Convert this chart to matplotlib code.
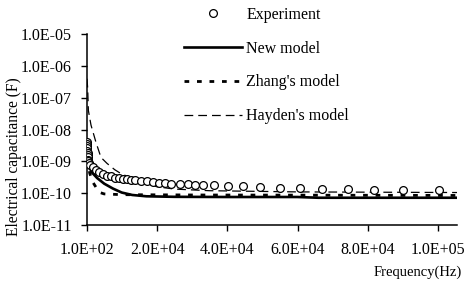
import matplotlib
matplotlib.use("Agg")
import matplotlib.pyplot as plt

plt.rcParams['font.family'] = ['Liberation Serif', 'DejaVu Serif']

# Experiment data
exp_freq = [100, 130, 160, 190, 220, 250, 300, 350, 400, 500, 700,
            1000, 1800, 2700, 3500, 4700, 5800, 6900, 8100, 9200, 10300,
            11500, 12600, 13800, 15500, 17200, 18900, 20600, 22300, 24000,
            26600, 28800, 30800, 33100, 36200, 40200, 44500, 49300, 55000,
            60700, 67000, 74400, 82000, 90000, 100500]
exp_cap = [4.2e-9, 3.6e-9, 3.1e-9, 2.6e-9, 2.2e-9, 1.9e-9, 1.6e-9, 1.35e-9, 1.15e-9, 1.0e-9, 8.8e-10,
           7.5e-10, 6.5e-10, 5.4e-10, 4.7e-10, 4.0e-10, 3.6e-10, 3.4e-10, 3.1e-10, 3.0e-10, 2.9e-10,
           2.8e-10, 2.7e-10, 2.6e-10, 2.4e-10, 2.34e-10, 2.25e-10, 2.17e-10, 2.1e-10, 2.0e-10,
           2.0e-10, 1.95e-10, 1.88e-10, 1.8e-10, 1.75e-10, 1.7e-10, 1.63e-10, 1.57e-10, 1.5e-10,
           1.46e-10, 1.4e-10, 1.36e-10, 1.3e-10, 1.3e-10, 1.3e-10]

# New model
new_freq = [100, 300, 700, 1500, 3000, 5000, 7500, 10000, 13000, 17000, 25000,
            40000, 60000, 66000, 80000, 107000]
new_cap = [1.1e-9, 9e-10, 7e-10, 4.5e-10, 3e-10, 2e-10, 1.4e-10, 1.05e-10, 8.8e-11, 8e-11, 7.7e-11,
           7.6e-11, 7.6e-11, 7.2e-11, 7.2e-11, 7.2e-11]

# Zhang's model
zhang_freq = [100, 400, 900, 1800, 2900, 3800, 5000, 10000, 30000, 60000, 107000]
zhang_cap = [1.2e-9, 8e-10, 4.2e-10, 2.2e-10, 1.4e-10, 1.05e-10, 9.5e-11, 9e-11, 8.8e-11, 8.7e-11, 8.5e-11]

# Hayden's model
hayden_freq = [100, 300, 500, 1240, 2660, 4080, 5800, 8000, 10000, 13000, 16000, 20000,
               25000, 35000, 60000, 107000]
hayden_cap = [4e-7, 2e-7, 4e-8, 1.4e-8, 4e-9, 1.34e-9, 8.7e-10, 5.5e-10, 4e-10, 3e-10, 2.2e-10, 1.6e-10,
              1.35e-10, 1.2e-10, 1.1e-10, 1.05e-10]

xticks = [100, 20100, 40100, 60100, 80100, 100100]
xtick_labels = ["1.0E+02", "2.0E+04", "4.0E+04", "6.0E+04", "8.0E+04", "1.0E+05"]
yticks = [1e-11, 1e-10, 1e-9, 1e-8, 1e-7, 1e-6, 1e-5]
ytick_labels = ["1.0E-11", "1.0E-10", "1.0E-09", "1.0E-08", "1.0E-07", "1.0E-06", "1.0E-05"]

fig = plt.figure(figsize=(4.74, 2.86), dpi=100)
ax = fig.add_axes([0.1835, 0.2133, 0.7805, 0.6667])

ax.plot(new_freq, new_cap, color='black', lw=1.9, label='New model', zorder=3)
ax.plot(zhang_freq, zhang_cap, color='black', lw=2.0, linestyle=(0, (1.7, 2.8)),
        label="Zhang's model", zorder=3)
ax.plot(hayden_freq, hayden_cap, color='black', lw=0.9, linestyle=(0, (7.0, 4.0)),
        label="Hayden's model", zorder=3)
ax.plot(exp_freq, exp_cap, linestyle='none', marker='o', markersize=5.6,
        markerfacecolor='white', markeredgecolor='black', markeredgewidth=0.9,
        label='Experiment', zorder=4)

ax.set_yscale('log')
ax.set_ylim(1e-11, 1e-5)
ax.set_xlim(100, 105500)
ax.set_xticks(xticks)
ax.set_xticklabels(xtick_labels)
ax.set_yticks(yticks)
ax.set_yticklabels(ytick_labels)
ax.minorticks_off()
ax.tick_params(axis='both', direction='out', length=4, width=1.0, labelsize=11.5, colors='black')
ax.tick_params(axis='x', pad=8)
ax.tick_params(axis='y', pad=7)

for s in ['top', 'right']:
    ax.spines[s].set_visible(False)
for s in ['left', 'bottom']:
    ax.spines[s].set_linewidth(1.1)
    ax.spines[s].set_color('black')

ax.set_ylabel('Electrical capacitance (F)', fontsize=11.2)
ax.yaxis.set_label_coords(-0.176, 0.36)
fig.text(0.975, 0.025, 'Frequency(Hz)', fontsize=10.5, ha='right', va='bottom')

handles, labels = ax.get_legend_handles_labels()
order = [3, 0, 1, 2]
leg = fig.legend([handles[i] for i in order], [labels[i] for i in order],
                 loc='upper left', bbox_to_anchor=(0.375, 0.999), frameon=False,
                 fontsize=11.5, handlelength=3.6, handletextpad=0.3,
                 labelspacing=1.12, numpoints=1, borderaxespad=0)

fig.savefig('out.png', dpi=100)
